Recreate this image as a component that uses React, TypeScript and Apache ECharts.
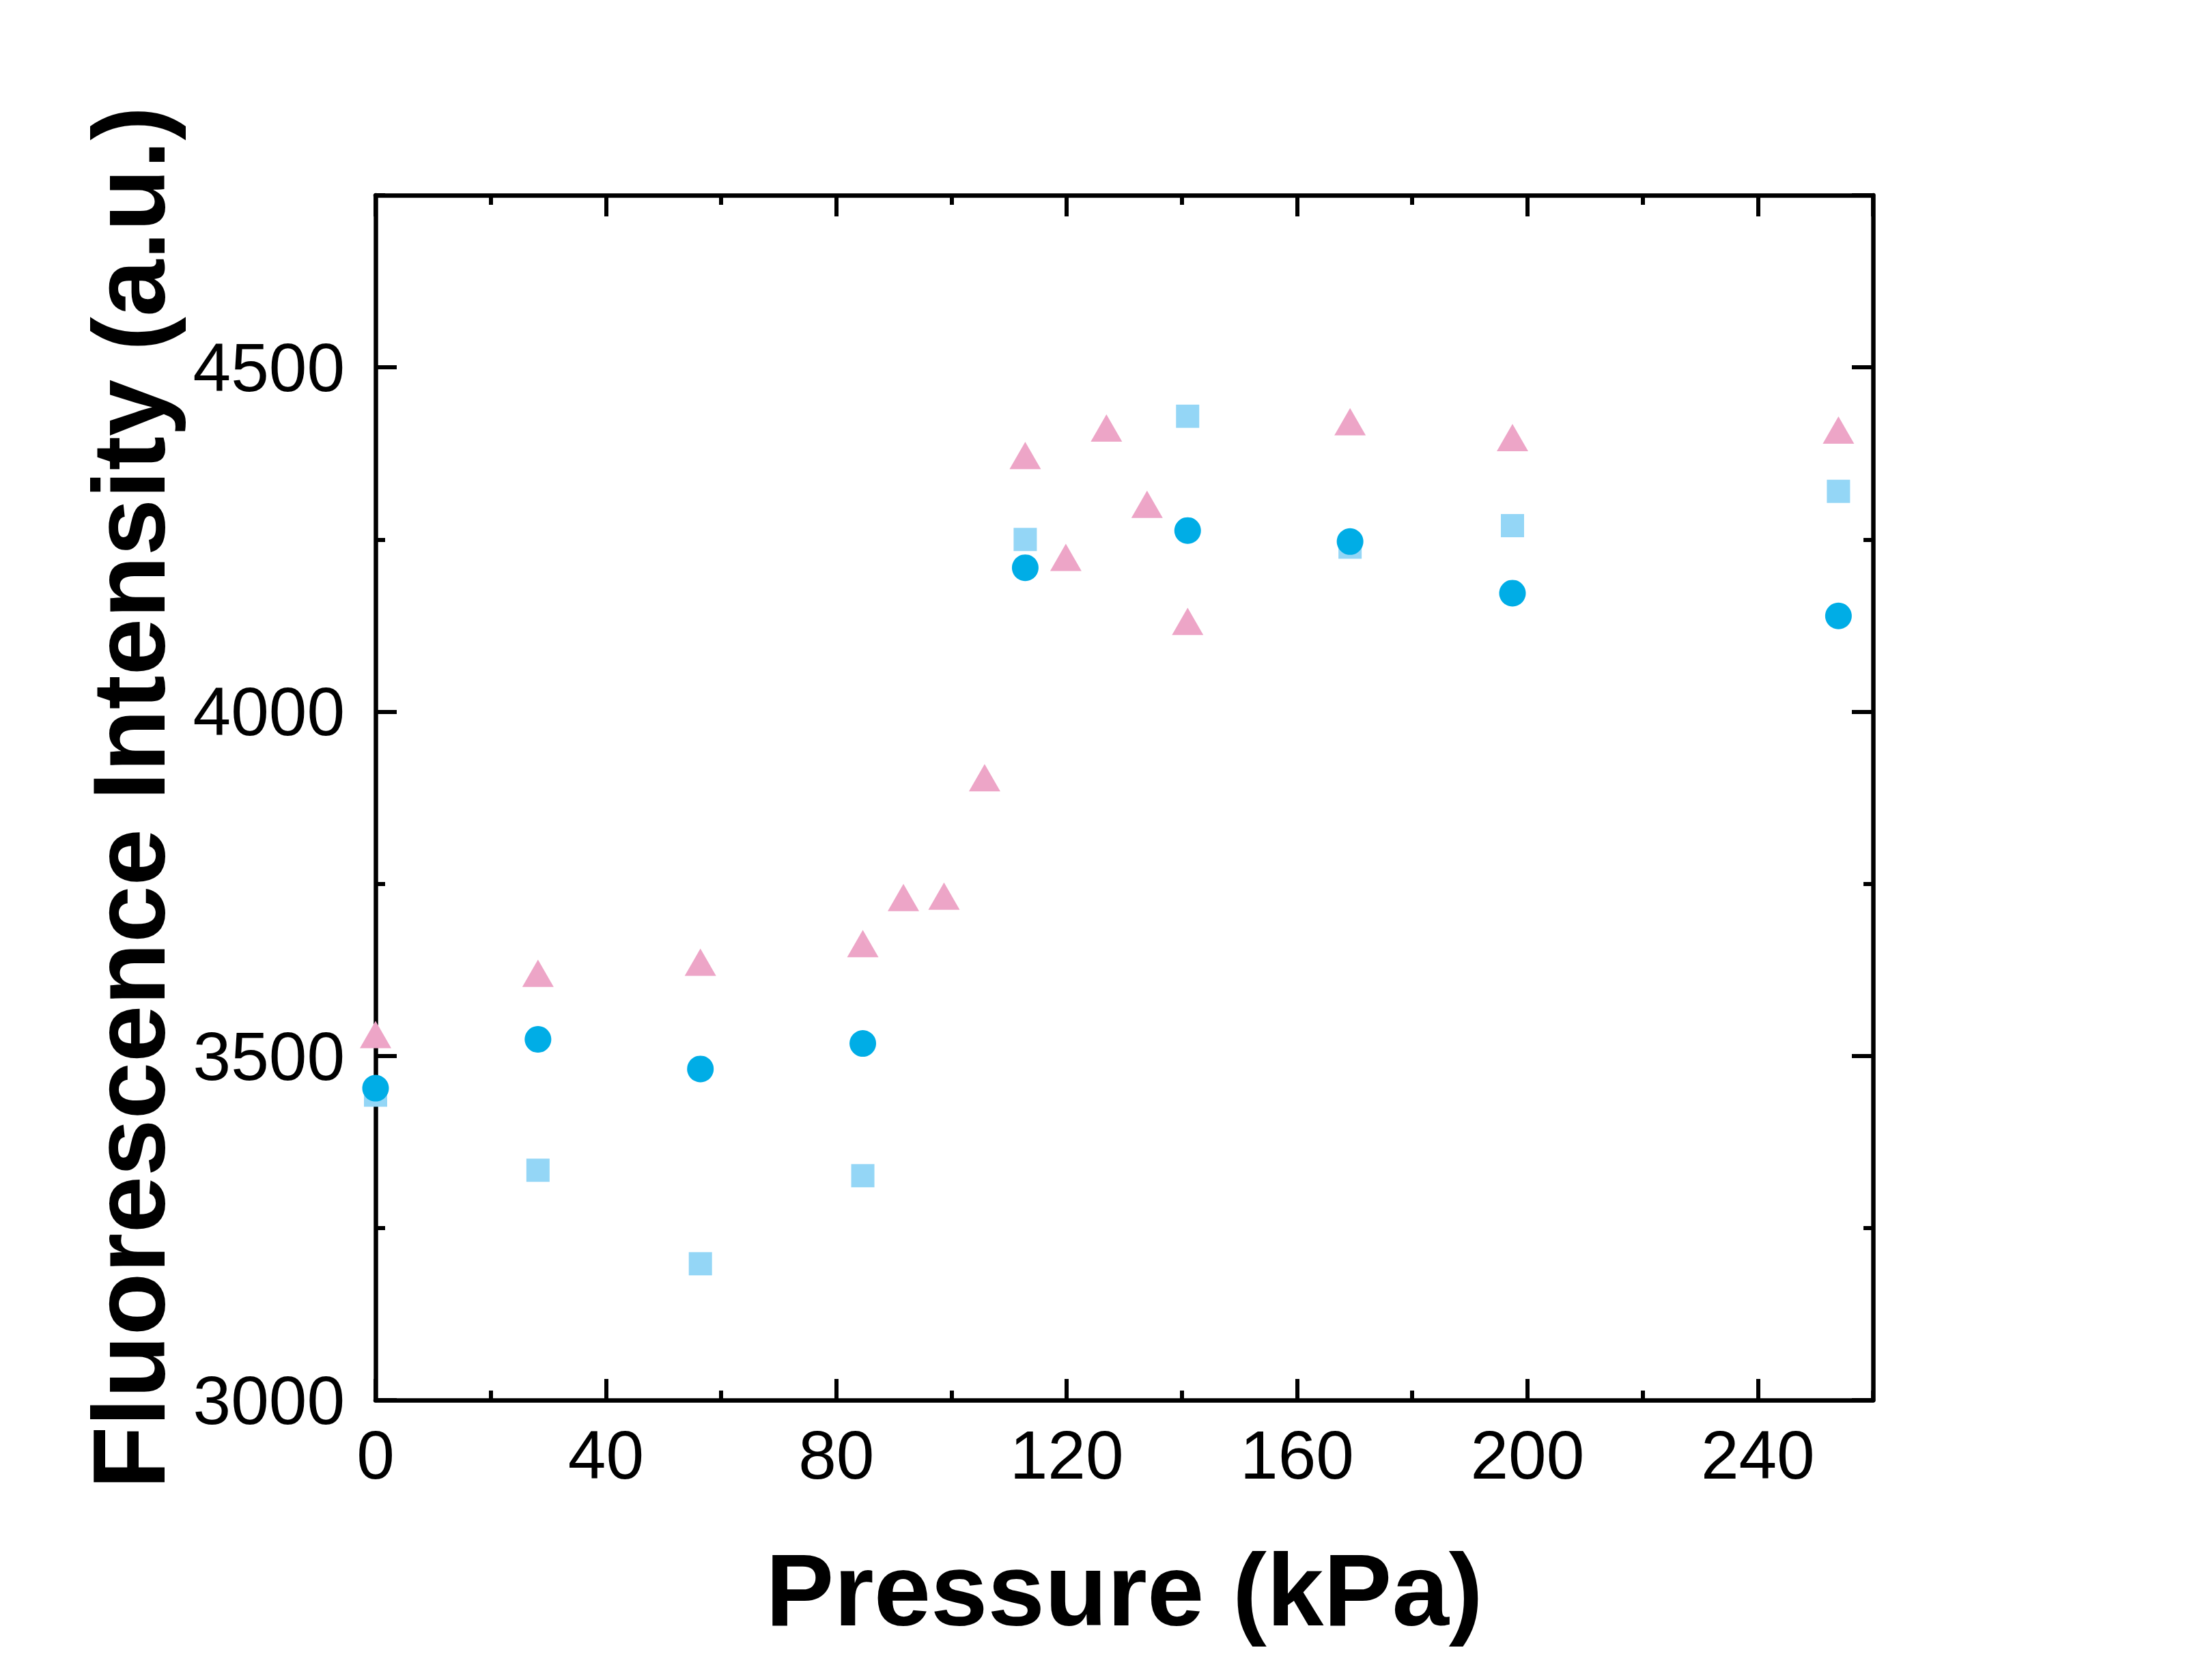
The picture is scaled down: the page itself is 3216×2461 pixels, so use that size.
import React, { useEffect, useRef } from "react";
import * as echarts from "echarts";

// Pressure (kPa) positions
const circleX = [0, 28.2, 56.4, 84.6, 112.8, 141, 169.2, 197.4, 254];
const circleY = [3453, 3524, 3481, 3518, 4209, 4263, 4247, 4172, 4139];

const squareX = [0, 28.2, 56.4, 84.6, 112.8, 141, 169.2, 197.4, 254];
const squareY = [3443, 3334, 3198, 3326, 4250, 4429, 4239, 4270, 4320];

const triangleX = [0, 28.2, 56.4, 84.6, 91.65, 98.7, 105.75, 112.8, 119.85, 126.9, 133.95, 141, 169.2, 197.4, 254];
const triangleY = [3531, 3620, 3636, 3663, 3730, 3732, 3904, 4372, 4224, 4412, 4301, 4131, 4421, 4398, 4409];

const X_MIN = 0;
const X_MAX = 260;
const X_MAJOR = 40;
const X_MINOR = 20;
const Y_MIN = 3000;
const Y_MAX = 4750;
const Y_MAJOR = 500;
const Y_MINOR = 250;

const xTitle = "Pressure (kPa)";
const yTitle = "Fluorescence Intensity (a.u.)";

const FONT = "'Liberation Sans', Arial, Helvetica, sans-serif";

function pairs(xs: number[], ys: number[]) {
  return xs.map((x, i) => [x, ys[i]]);
}

export default function App() {
  const ref = useRef<HTMLDivElement>(null);

  useEffect(() => {
    if (!ref.current) return;
    const chart = echarts.init(ref.current, null, { renderer: "svg" });
    const LW = 6.5;
    const line = { show: true, onZero: false, lineStyle: { color: "#000", width: LW } };
    const noLine = { show: false, onZero: false };
    const majorTick = { show: true, inside: true, length: 31, lineStyle: { color: "#000", width: 6 } };
    const minorTick = { show: true, inside: true, length: 14, lineStyle: { color: "#000", width: 6 } };

    const xBase = { type: "value", min: X_MIN, max: X_MAX, splitLine: { show: false } };
    const yBase = { type: "value", min: Y_MIN, max: Y_MAX, splitLine: { show: false } };
    const plain = (v: number) => String(v);

    chart.setOption({
      animation: false,
      backgroundColor: "#fff",
      grid: { left: 542, top: 278, width: 2193, height: 1765, containLabel: false },
      xAxis: [
        {
          ...xBase,
          position: "bottom",
          interval: X_MAJOR,
          axisLine: line,
          axisTick: majorTick,
          axisLabel: { show: true, margin: 30, fontSize: 100, color: "#000", fontFamily: FONT, showMaxLabel: false, formatter: plain },
          name: xTitle,
          nameLocation: "middle",
          nameGap: 203,
          nameTextStyle: { fontSize: 150, fontWeight: "bold", color: "#000", fontFamily: FONT },
        },
        { ...xBase, position: "bottom", interval: X_MINOR, axisLine: noLine, axisTick: minorTick, axisLabel: { show: false } },
        { ...xBase, position: "top", interval: X_MAJOR, axisLine: line, axisTick: majorTick, axisLabel: { show: false } },
        { ...xBase, position: "top", interval: X_MINOR, axisLine: noLine, axisTick: minorTick, axisLabel: { show: false } },
      ],
      yAxis: [
        {
          ...yBase,
          position: "left",
          interval: Y_MAJOR,
          axisLine: line,
          axisTick: majorTick,
          axisLabel: { show: true, margin: 45, fontSize: 100, color: "#000", fontFamily: FONT, showMaxLabel: false, formatter: plain },
          name: yTitle,
          nameLocation: "middle",
          nameGap: 286,
          nameRotate: 90,
          nameTextStyle: { fontSize: 150, fontWeight: "bold", color: "#000", fontFamily: FONT },
        },
        { ...yBase, position: "left", interval: Y_MINOR, axisLine: noLine, axisTick: minorTick, axisLabel: { show: false } },
        { ...yBase, position: "right", interval: Y_MAJOR, axisLine: line, axisTick: majorTick, axisLabel: { show: false } },
        { ...yBase, position: "right", interval: Y_MINOR, axisLine: noLine, axisTick: minorTick, axisLabel: { show: false } },
      ],
      series: [
        {
          type: "scatter",
          xAxisIndex: 0,
          yAxisIndex: 0,
          symbol: "rect",
          symbolSize: 34,
          clip: false,
          itemStyle: { color: "#94D6F6", opacity: 1 },
          data: pairs(squareX, squareY),
          z: 3,
        },
        {
          type: "scatter",
          xAxisIndex: 0,
          yAxisIndex: 0,
          symbol: "triangle",
          symbolSize: [46, 40],
          clip: false,
          itemStyle: { color: "#EDA5C7", opacity: 1 },
          data: pairs(triangleX, triangleY),
          z: 4,
        },
        {
          type: "scatter",
          xAxisIndex: 0,
          yAxisIndex: 0,
          symbol: "circle",
          symbolSize: 39,
          clip: false,
          itemStyle: { color: "#00ADE6", opacity: 1 },
          data: pairs(circleX, circleY),
          z: 5,
        },
      ],
    });
    return () => chart.dispose();
  }, []);

  return <div ref={ref} style={{ width: 3200, height: 2445 }} />;
}
